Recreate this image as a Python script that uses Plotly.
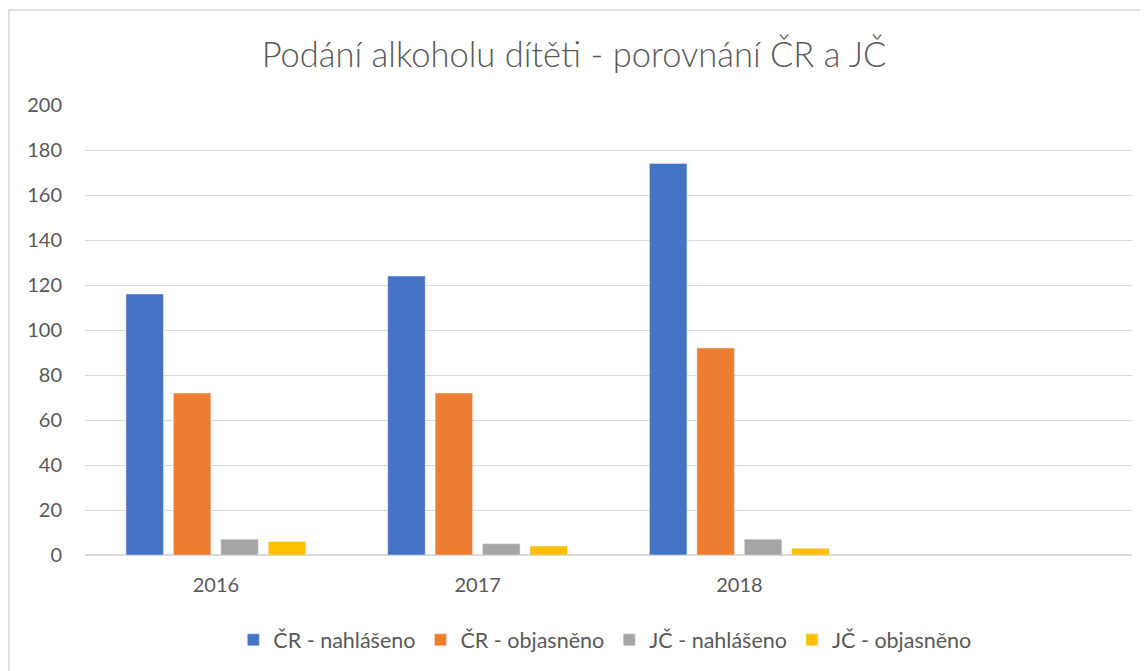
import plotly.graph_objects as go

years = ["2016", "2017", "2018"]
cr_nahlaseno = [116, 124, 174]
cr_objasneno = [72, 72, 92]
jc_nahlaseno = [7, 5, 7]
jc_objasneno = [6, 4, 3]

series = [
    ("ČR - nahlášeno", cr_nahlaseno, "#4472c4"),
    ("ČR - objasněno", cr_objasneno, "#ed7d31"),
    ("JČ - nahlášeno", jc_nahlaseno, "#a5a5a5"),
    ("JČ - objasněno", jc_objasneno, "#ffc000"),
]

fig = go.Figure()
for name, vals, col in series:
    fig.add_trace(go.Bar(x=years, y=vals, name=name, marker_color=col))

# page has an 8px body margin, so the figure is a bit smaller and the margins shifted
fig.update_layout(
    width=1140, height=663,
    paper_bgcolor="white", plot_bgcolor="white",
    font=dict(family="Lato, Open Sans, sans-serif", color="#595959", size=20),
    title=dict(text="Podání alkoholu dítěti - porovnání ČR a JČ",
               x=0.4965, xanchor="center", y=0.929, yanchor="middle",
               font=dict(size=34.5, color="#595959", weight=300)),
    margin=dict(l=77, r=16, t=97, b=115),
    barmode="group", bargap=0.275, bargroupgap=0.21,
    legend=dict(orientation="h", x=0.4965, xanchor="center", y=-0.186, yanchor="middle",
                font=dict(size=21.5), itemwidth=30, traceorder="normal"),
    showlegend=True,
)
fig.update_xaxes(range=[-0.5, 3.5], showgrid=False, showline=False, ticks="",
                 ticklabelstandoff=16, tickfont=dict(size=20))
fig.update_yaxes(range=[0, 200], dtick=20, showgrid=True, gridcolor="#d9d9d9",
                 gridwidth=1, zeroline=True, zerolinecolor="#d9d9d9", zerolinewidth=1.5,
                 showline=False, ticks="", ticklabelstandoff=22, tickfont=dict(size=20))

# chart border (right and bottom edges run off the page)
fig.add_shape(type="rect", xref="paper", yref="paper",
              x0=-0.0726, x1=1.05, y0=-0.4, y1=1.211, line=dict(color="#d9d9d9", width=1.5))

fig.write_html("out.html")
